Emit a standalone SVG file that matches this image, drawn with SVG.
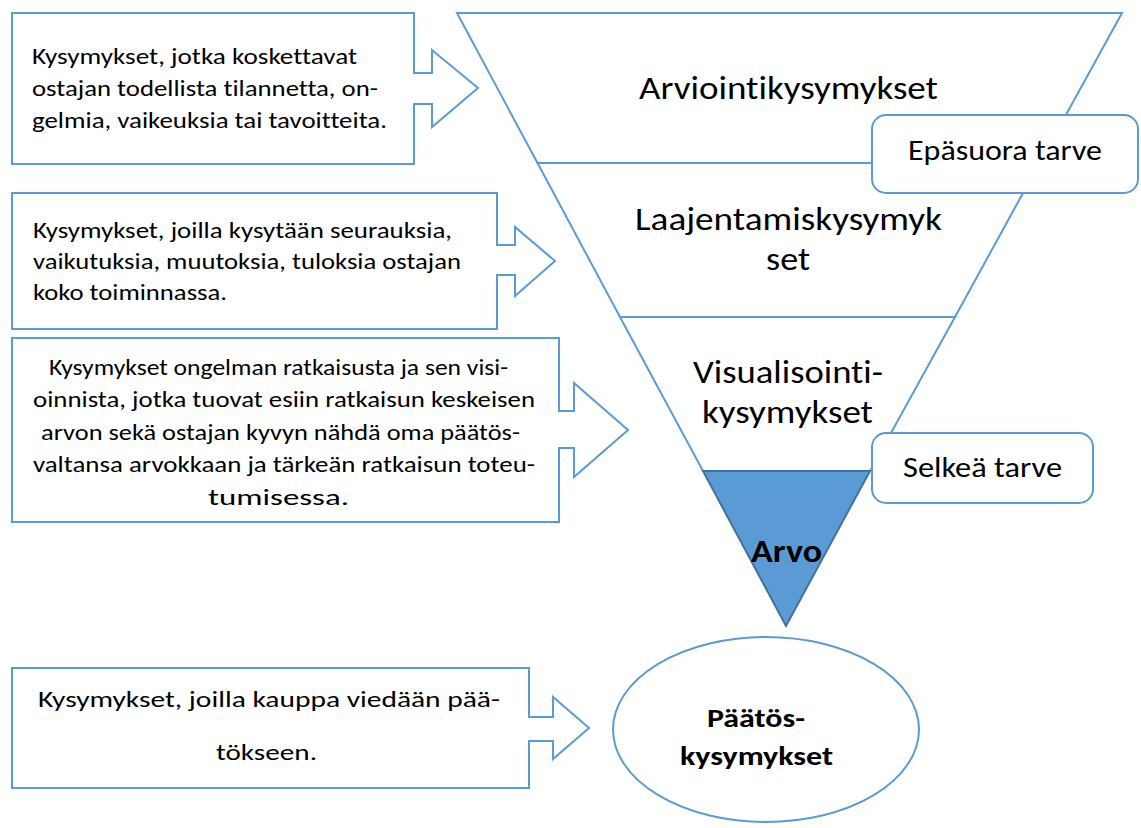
<svg xmlns="http://www.w3.org/2000/svg" width="1141" height="828" viewBox="0 0 1141 828">
<style>
.ln{fill:#fff;stroke:#5B9BD5;stroke-width:2;stroke-linejoin:miter}
.t{font-family:Carlito,Lato,"Liberation Sans",sans-serif;fill:#000;font-variant-ligatures:none;font-feature-settings:"liga" 0,"dlig" 0}
.s{font-size:23px}
.m{font-size:28px}
.b{font-size:33px}
.bd{font-weight:bold}
</style>
<rect width="1141" height="828" fill="#fff"/>
<g id="funnel">
<g id="band-arviointi">
<polygon class="ln" points="457,13 1122,13 1039.5,163 537.5,163"/>
<text class="t b" x="639" y="99" textLength="299" lengthAdjust="spacingAndGlyphs">Arviointikysymykset</text>
</g>
<g id="band-laajentamis">
<polygon class="ln" points="537.5,163 1039.5,163 955,317 620,317"/>
<text class="t b" x="635" y="230" textLength="307" lengthAdjust="spacingAndGlyphs">Laajentamiskysymyk</text>
<text class="t b" x="766" y="270" textLength="44" lengthAdjust="spacingAndGlyphs">set</text>
</g>
<g id="band-visualisointi">
<polygon class="ln" points="620,317 955,317 870,471 703,471"/>
<text class="t b" x="693" y="383" textLength="190" lengthAdjust="spacingAndGlyphs">Visualisointi-</text>
<text class="t b" x="702" y="423" textLength="171" lengthAdjust="spacingAndGlyphs">kysymykset</text>
</g>
<g id="arvo">
<polygon points="703,471 870,471 786,626" fill="#5B9BD5" stroke="#41719C" stroke-width="2"/>
<text class="t bd" font-size="32" x="751" y="562" textLength="71" lengthAdjust="spacingAndGlyphs">Arvo</text>
</g>
</g>
<g id="epasuora">
<rect class="ln" x="872" y="115" width="266" height="78" rx="14"/>
<text class="t m" x="908" y="160" textLength="194" lengthAdjust="spacingAndGlyphs">Epäsuora tarve</text>
</g>
<g id="selkea">
<rect class="ln" x="872" y="433" width="221" height="70" rx="14"/>
<text class="t m" x="903" y="477" textLength="159" lengthAdjust="spacingAndGlyphs">Selkeä tarve</text>
</g>
<g id="callout1">
<path class="ln" d="M12,13 H414 V73 H432 V50 L478,88 L432,127 V104 H414 V164 H12 Z"/>
<text class="t s" x="32" y="64" textLength="325" lengthAdjust="spacingAndGlyphs">Kysymykset, jotka koskettavat</text>
<text class="t s" x="32" y="96" textLength="346" lengthAdjust="spacingAndGlyphs">ostajan todellista tilannetta, on-</text>
<text class="t s" x="32" y="128" textLength="355" lengthAdjust="spacingAndGlyphs">gelmia, vaikeuksia tai tavoitteita.</text>
</g>
<g id="callout2">
<path class="ln" d="M12,193 H497 V245 H515 V227 L555,261 L515,296 V275 H497 V329 H12 Z"/>
<text class="t s" x="33" y="238" textLength="419" lengthAdjust="spacingAndGlyphs">Kysymykset, joilla kysytään seurauksia,</text>
<text class="t s" x="33" y="269" textLength="428" lengthAdjust="spacingAndGlyphs">vaikutuksia, muutoksia, tuloksia ostajan</text>
<text class="t s" x="33" y="300" textLength="194" lengthAdjust="spacingAndGlyphs">koko toiminnassa.</text>
</g>
<g id="callout3">
<path class="ln" d="M12,338 H559 V411 H574 V383 L628,430 L574,477 V448 H559 V522 H12 Z"/>
<text class="t s" x="49" y="375" textLength="459" lengthAdjust="spacingAndGlyphs">Kysymykset ongelman ratkaisusta ja sen visi-</text>
<text class="t s" x="33" y="407" textLength="502" lengthAdjust="spacingAndGlyphs">oinnista, jotka tuovat esiin ratkaisun keskeisen</text>
<text class="t s" x="41" y="440" textLength="479" lengthAdjust="spacingAndGlyphs">arvon sekä ostajan kyvyn nähdä oma päätös-</text>
<text class="t s" x="33" y="472" textLength="502" lengthAdjust="spacingAndGlyphs">valtansa arvokkaan ja tärkeän ratkaisun toteu-</text>
<text class="t s" x="208" y="505" textLength="141" lengthAdjust="spacingAndGlyphs">tumisessa.</text>
</g>
<g id="callout4">
<path class="ln" d="M12,668 H529 V717 H553 V697 L589,728 L553,759 V741 H529 V788 H12 Z"/>
<text class="t s" x="38" y="707" textLength="462" lengthAdjust="spacingAndGlyphs">Kysymykset, joilla kauppa viedään pää-</text>
<text class="t s" x="216" y="760" textLength="101" lengthAdjust="spacingAndGlyphs">tökseen.</text>
</g>
<g id="paatos">
<ellipse class="ln" cx="766" cy="729.5" rx="153" ry="92.5"/>
<text class="t bd" font-size="27" x="707" y="727" textLength="98" lengthAdjust="spacingAndGlyphs">Päätös-</text>
<text class="t bd" font-size="27" x="680" y="765" textLength="153" lengthAdjust="spacingAndGlyphs">kysymykset</text>
</g>
<g id="connectors"/>
</svg>
